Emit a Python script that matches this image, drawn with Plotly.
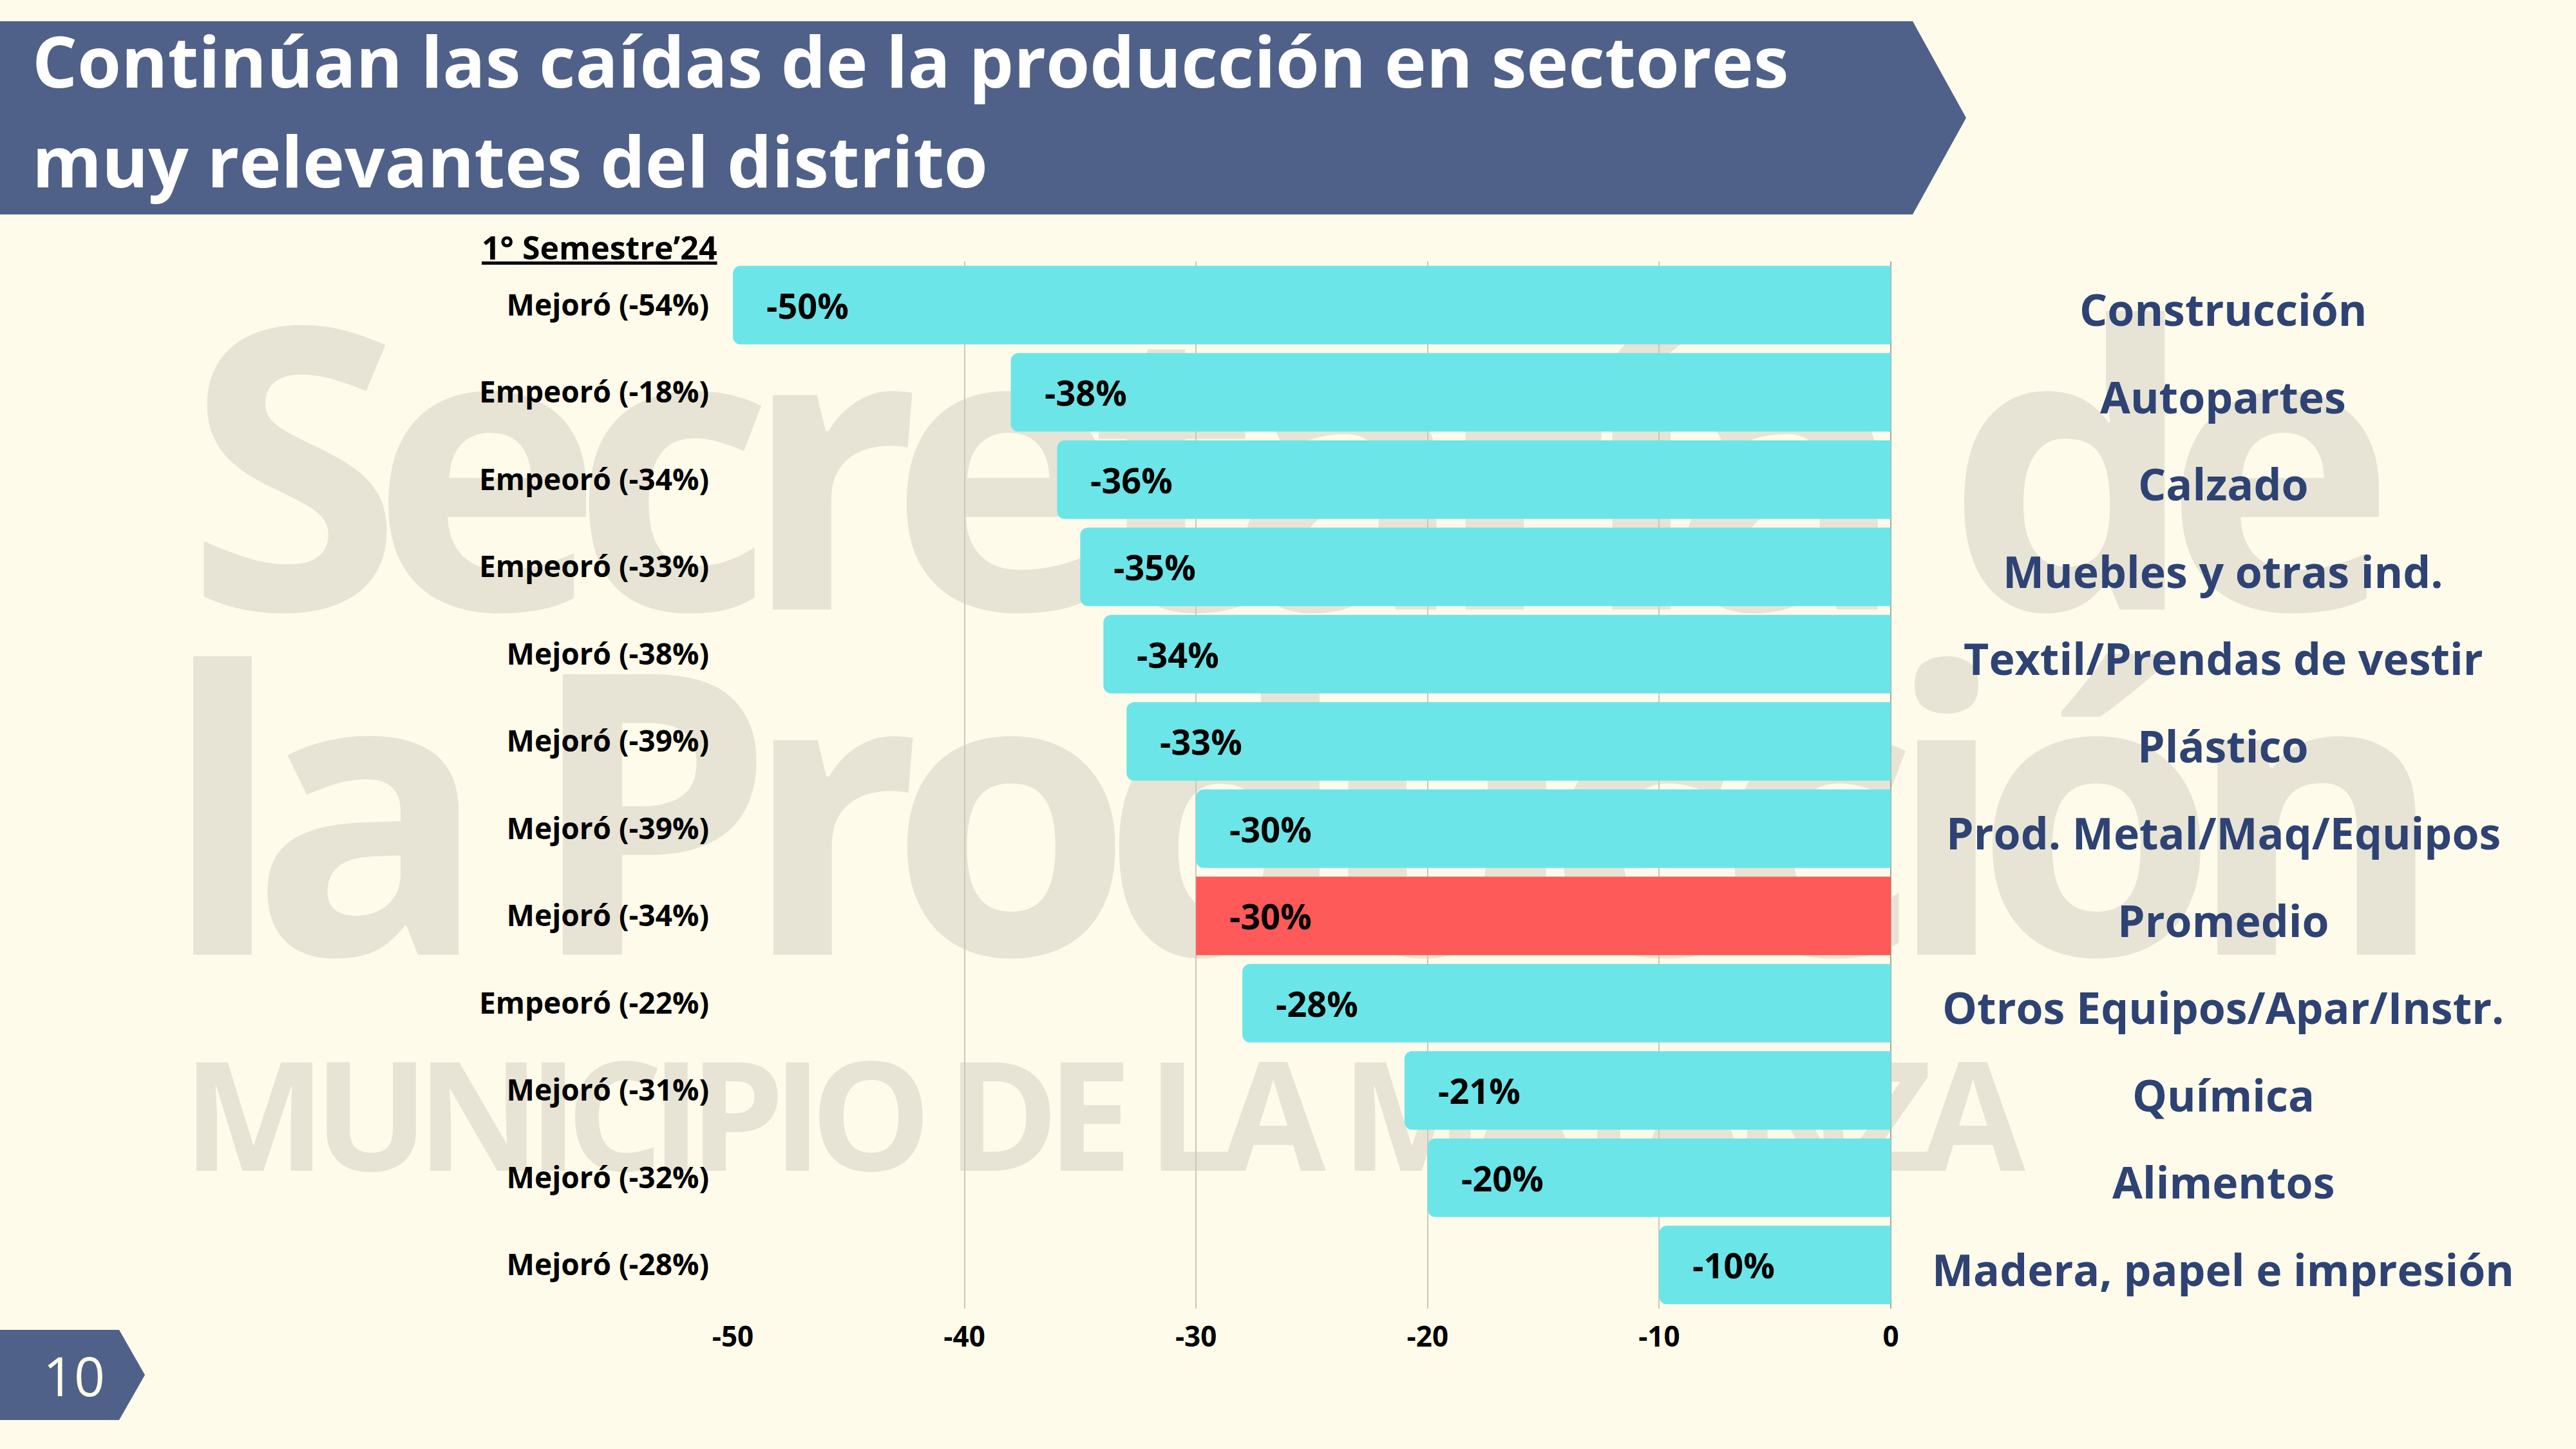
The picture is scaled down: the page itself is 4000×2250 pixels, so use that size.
import plotly.graph_objects as go

# ---------------- data ----------------
sectors = [
    "Construcción", "Autopartes", "Calzado", "Muebles y otras ind.",
    "Textil/Prendas de vestir", "Plástico", "Prod. Metal/Maq/Equipos",
    "Promedio", "Otros Equipos/Apar/Instr.", "Química", "Alimentos",
    "Madera, papel e impresión",
]
values = [-50, -38, -36, -35, -34, -33, -30, -30, -28, -21, -20, -10]
prev_labels = [
    "Mejoró (-54%)", "Empeoró (-18%)", "Empeoró (-34%)", "Empeoró (-33%)",
    "Mejoró (-38%)", "Mejoró (-39%)", "Mejoró (-39%)", "Mejoró (-34%)",
    "Empeoró (-22%)", "Mejoró (-31%)", "Mejoró (-32%)", "Mejoró (-28%)",
]
highlight = "Promedio"
x_ticks = [-50, -40, -30, -20, -10, 0]

title_lines = ["Continúan las caídas de la producción en sectores",
               "muy relevantes del distrito"]
subtitle = "1° Semestre’24"
page_number = "10"
watermark_lines = ["Secretaría de", "la Producción", "MUNICIPIO DE LA MATANZA"]

# ---------------- styles ----------------
BG = "#FFFBEA"
CYAN = "#6CE5E8"
RED = "#FF5A5A"
BANNER = "#4F6188"
NAVY = "#2E4374"
WM = "#E7E4D6"
GRID = "#CBC8BA"
FONT = "Open Sans"

WIDTH, HEIGHT = 4000, 2250
L, R, T, B = 1138, 2936, 406, 2032
PW, PH = R - L, B - T


def xp(px):
    return (px - L) / PW


def yp(py):
    return (B - py) / PH


fig = go.Figure()

norm_idx = [i for i, s in enumerate(sectors) if s != highlight]
hi_idx = [i for i, s in enumerate(sectors) if s == highlight]

fig.add_trace(go.Bar(
    y=[sectors[i] for i in norm_idx], x=[values[i] for i in norm_idx],
    orientation="h", marker=dict(color=CYAN, line=dict(width=0), cornerradius=12),
    hoverinfo="skip", showlegend=False,
))
fig.add_trace(go.Bar(
    y=[sectors[i] for i in hi_idx], x=[values[i] for i in hi_idx],
    orientation="h", marker=dict(color=RED, line=dict(width=0), cornerradius=0),
    hoverinfo="skip", showlegend=False,
))

annotations = []
# value labels inside bars
for s, v in zip(sectors, values):
    annotations.append(dict(
        x=v, y=s, xref="x", yref="y", text=f"{v}%", showarrow=False,
        xanchor="left", yanchor="middle", xshift=50,
        font=dict(family=FONT, size=54, color="black", weight="bold"),
    ))
# sector names on right
for s in sectors:
    annotations.append(dict(
        x=xp(3452), y=s, xref="paper", yref="y", text=s, showarrow=False,
        xanchor="center", yanchor="middle", yshift=-6,
        font=dict(family=FONT, size=68, color=NAVY, weight="bold"),
    ))
# title
annotations.append(dict(
    x=xp(48), y=yp(93), xref="paper", yref="paper", text=title_lines[0],
    showarrow=False, xanchor="left", yanchor="middle",
    font=dict(family=FONT, size=110, color="white", weight="bold"),
))
annotations.append(dict(
    x=xp(48), y=yp(248), xref="paper", yref="paper", text=title_lines[1],
    showarrow=False, xanchor="left", yanchor="middle",
    font=dict(family=FONT, size=110, color="white", weight="bold"),
))
# subtitle
annotations.append(dict(
    x=xp(931), y=yp(384), xref="paper", yref="paper", text=f"<u>{subtitle}</u>",
    showarrow=False, xanchor="center", yanchor="middle",
    font=dict(family=FONT, size=50, color="black", weight="bold"),
))
# page number
annotations.append(dict(
    x=xp(115), y=yp(2135), xref="paper", yref="paper", text=page_number,
    showarrow=False, xanchor="center", yanchor="middle",
    font=dict(family=FONT, size=84, color=BG),
))

shapes = []
# watermark (behind everything; tight tracking applied in post_script)
wm_specs = [
    (watermark_lines[0], 1980, 752, 610),
    (watermark_lines[1], 2000, 1288, 610),
    (watermark_lines[2], 1705, 1742, 236),
]
for text, cx, cy, size in wm_specs:
    shapes.append(dict(
        type="rect", xref="paper", yref="paper", layer="below",
        x0=xp(cx - 10), x1=xp(cx + 10), y0=yp(cy + 10), y1=yp(cy - 10),
        line=dict(width=0), fillcolor="rgba(0,0,0,0)",
        label=dict(text=text, textposition="middle center",
                   font=dict(family=FONT, size=size, color=WM, weight="bold")),
    ))
# title banner
bx = [0, 2970, 3053, 2970, 0]
by = [33, 33, 183, 333, 333]
path = "M " + " L ".join(f"{xp(a)},{yp(b)}" for a, b in zip(bx, by)) + " Z"
shapes.append(dict(type="path", xref="paper", yref="paper", path=path,
                   fillcolor=BANNER, line=dict(width=0), layer="above"))
# page banner
px_ = [0, 185, 225, 185, 0]
py_ = [2065, 2065, 2135, 2205, 2205]
path2 = "M " + " L ".join(f"{xp(a)},{yp(b)}" for a, b in zip(px_, py_)) + " Z"
shapes.append(dict(type="path", xref="paper", yref="paper", path=path2,
                   fillcolor=BANNER, line=dict(width=0), layer="above"))

fig.update_layout(
    width=WIDTH, height=HEIGHT,
    margin=dict(l=L, r=WIDTH - R, t=T, b=HEIGHT - B, pad=0),
    paper_bgcolor=BG, plot_bgcolor="rgba(0,0,0,0)",
    barmode="overlay", bargap=0.1,
    showlegend=False,
    annotations=annotations, shapes=shapes,
    xaxis=dict(
        range=[-50, 0], tickvals=x_ticks, ticktext=[str(t) for t in x_ticks],
        showgrid=True, gridcolor=GRID, gridwidth=2,
        zeroline=True, zerolinecolor="#A9A79C", zerolinewidth=2,
        showline=False, ticks="", ticklabelstandoff=14,
        tickfont=dict(family=FONT, size=44, color="black", weight="bold"),
    ),
    yaxis=dict(
        categoryorder="array", categoryarray=sectors,
        range=[len(sectors) - 0.5, -0.5],
        tickvals=sectors, ticktext=prev_labels,
        showgrid=False, zeroline=False, showline=False, ticks="",
        ticklabelstandoff=36,
        tickfont=dict(family=FONT, size=46, color="black", weight="bold"),
    ),
)

post_js = (
    "document.body.style.margin='0';"
    "document.body.style.background='" + BG + "';"
    "document.querySelectorAll('svg text').forEach(function(t){"
    "var fs=parseFloat(window.getComputedStyle(t).fontSize);"
    "if(fs>=200){t.style.letterSpacing='-0.08em';}"
    "});"
)

fig.write_html("out.html", post_script=post_js,
               config={"displayModeBar": False})
